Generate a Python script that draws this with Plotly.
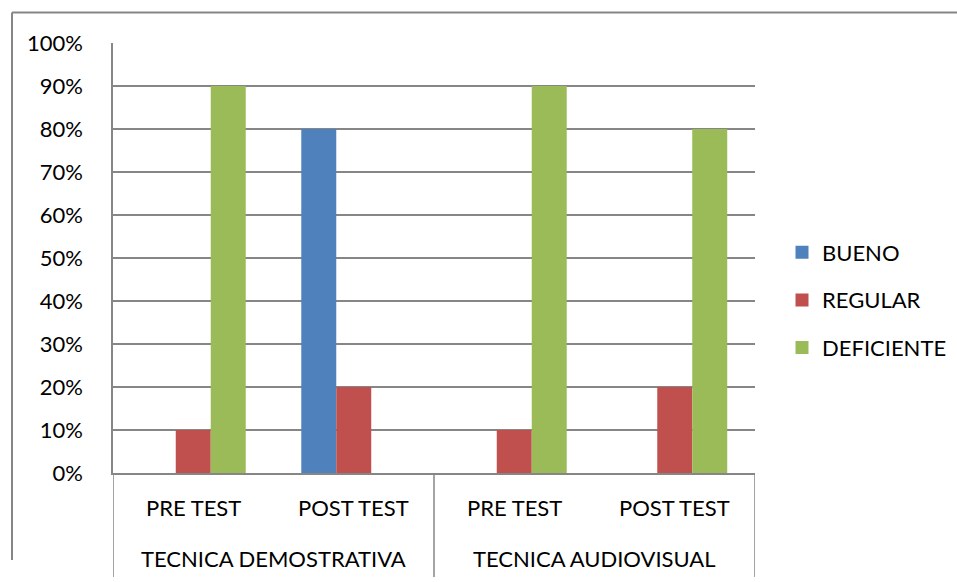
import plotly.graph_objects as go

groups = ["TECNICA DEMOSTRATIVA", "TECNICA AUDIOVISUAL"]
tests = ["PRE TEST", "POST TEST", "PRE TEST", "POST TEST"]
positions = [0, 1, 2, 3]
bueno = [0.0, 0.80, 0.0, 0.0]
regular = [0.10, 0.20, 0.10, 0.20]
deficiente = [0.90, 0.0, 0.90, 0.80]
series_names = ["BUENO", "REGULAR", "DEFICIENTE"]
colors = ["#4F81BD", "#C0504D", "#9BBB59"]

FONT = "Lato"
FS = 22
L, R, T, B = 113, 202, 43, 109
W, H = 957, 582
PW, PH = W - L - R, H - T - B

def px_x(x):
    return (x - L) / PW

def px_y(y):
    return (H - B - y) / PH

fig = go.Figure()
for name, vals, col in zip(series_names, [bueno, regular, deficiente], colors):
    fig.add_trace(go.Bar(x=positions, y=vals, name=name, legendgroup=name, showlegend=False,
                         marker=dict(color=col, line=dict(width=0))))
# legend entries with square markers
for name, col in zip(series_names, colors):
    fig.add_trace(go.Scatter(x=[None], y=[None], mode="markers", name=name, legendgroup=name,
                             marker=dict(symbol="square", size=13, color=col)))

grid = "#868686"
fig.update_layout(
    width=W, height=H,
    margin=dict(l=L, r=R, t=T, b=B, autoexpand=False),
    paper_bgcolor="white", plot_bgcolor="white",
    barmode="group", bargap=0.346, bargroupgap=0,
    font=dict(family=FONT, size=FS, color="black"),
    legend=dict(x=px_x(782), y=px_y(300), yanchor="middle", xanchor="left",
                font=dict(size=FS), itemwidth=30, tracegroupgap=16,
                traceorder="grouped", bgcolor="rgba(0,0,0,0)"),
    showlegend=True,
)
fig.update_yaxes(range=[0, 1], dtick=0.1, tickformat=".0%", showgrid=True, gridcolor=grid, gridwidth=1.5,
                 showline=True, linecolor=grid, linewidth=1.5, zeroline=False,
                 ticks="", ticklabelstandoff=24, tickfont=dict(size=FS))
fig.update_xaxes(range=[-0.5, 3.5], showline=True, linecolor=grid, linewidth=1.5, showgrid=False,
                 zeroline=False, showticklabels=False, ticks="")

# outer chart border (top and left edges visible)
fig.add_shape(type="line", xref="paper", yref="paper",
              x0=px_x(12), x1=px_x(957), y0=px_y(12.5), y1=px_y(12.5),
              line=dict(color=grid, width=2))
fig.add_shape(type="line", xref="paper", yref="paper",
              x0=px_x(12), x1=px_x(12), y0=px_y(560), y1=px_y(12.5),
              line=dict(color=grid, width=2))

# category labels (two levels)
for p, t in zip(positions, tests):
    fig.add_annotation(x=p, y=px_y(507), xref="x", yref="paper", text=t, showarrow=False,
                       yanchor="middle", font=dict(size=FS))
for i, g in enumerate(groups):
    fig.add_annotation(x=2 * i + 0.5, y=px_y(558), xref="x", yref="paper", text=g, showarrow=False,
                       yanchor="middle", font=dict(size=FS))
# group dividers
for xd in [-0.5, 1.5, 3.5]:
    fig.add_shape(type="line", xref="x", yref="paper", x0=xd, x1=xd, y0=0, y1=px_y(577),
                  line=dict(color=grid, width=1.5))
fig.write_html("out.html")
